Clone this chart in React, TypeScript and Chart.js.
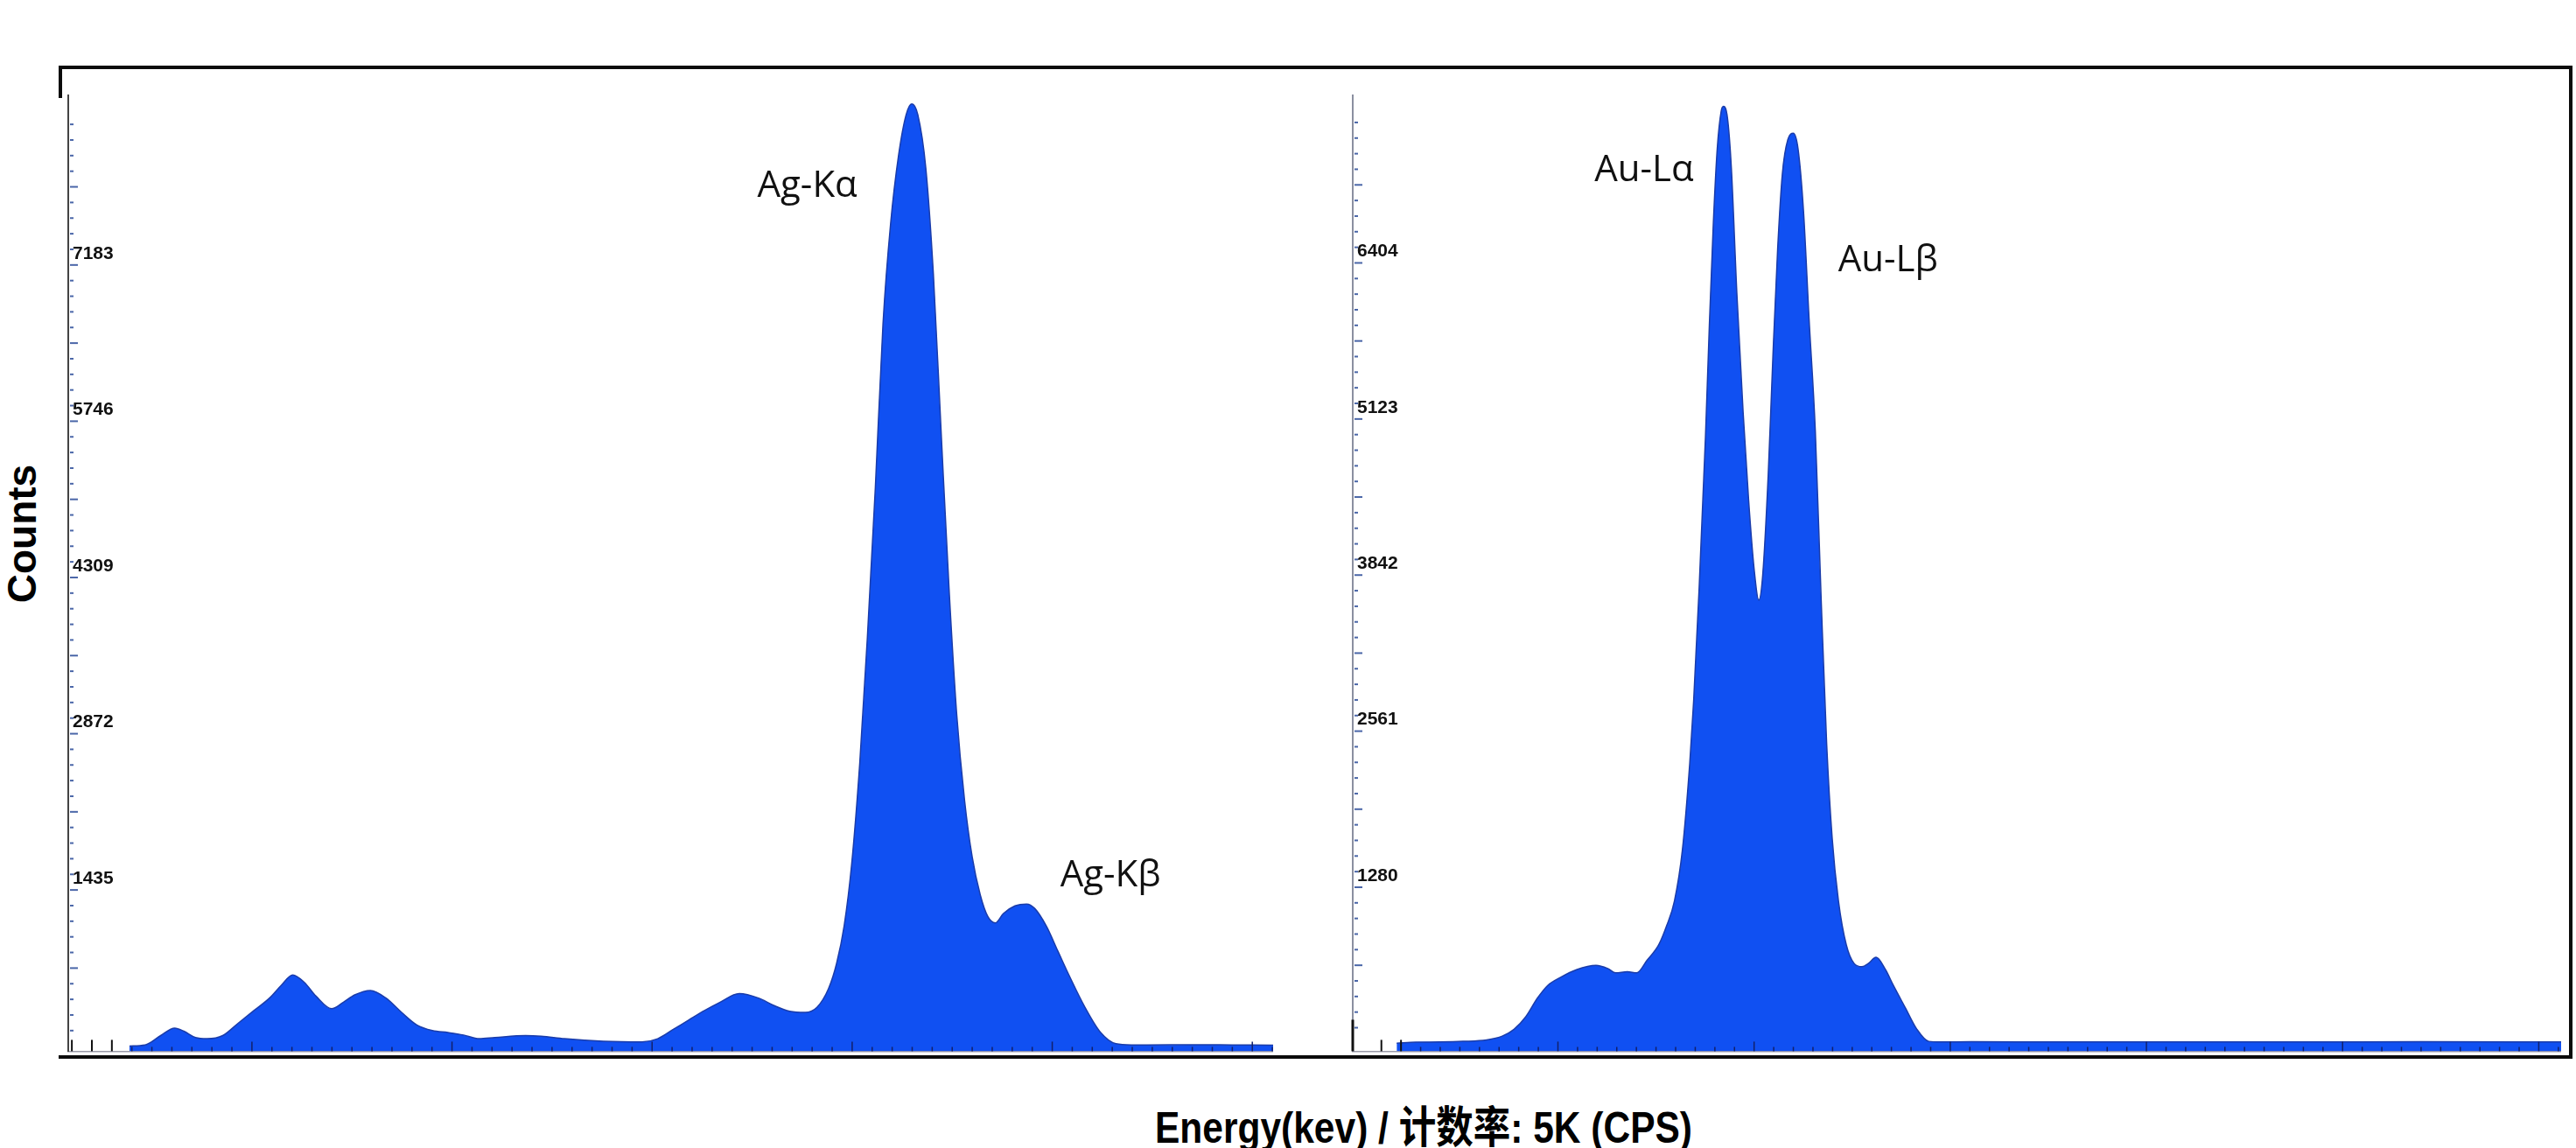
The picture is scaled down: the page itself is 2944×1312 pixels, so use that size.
import React, { useEffect, useRef } from "react";
import { Chart, ChartConfiguration, Plugin, registerables } from "chart.js";

Chart.register(...registerables);

// Ag spectrum (left panel), energy in keV and counts
const agEnergy = [
  1.94, 2.33, 2.72, 3.07, 3.3, 3.59, 3.88, 4.27, 4.66, 5.05, 5.44, 5.73, 6.02, 6.31, 6.6, 6.99, 7.28, 7.57,
  7.96, 8.35, 8.74, 9.12, 9.51, 9.9, 10.29, 10.68, 11.07, 11.84, 12.23, 12.81, 13.78, 14.75, 15.14, 15.53,
  15.92, 16.31, 16.69, 17.18, 17.66, 18.05, 18.44, 18.83, 19.12, 19.41, 19.61, 19.8, 19.99, 20.19, 20.38,
  20.58, 20.77, 20.96, 21.16, 21.35, 21.49, 21.64, 21.84, 22.03, 22.23, 22.42, 22.61, 22.81, 23.0, 23.2,
  23.39, 23.58, 23.78, 24.07, 24.36, 24.56, 24.85, 25.14, 25.43, 25.82, 26.21, 26.59, 26.98, 27.37, 28.5,
  29.5, 30.52,
];
const agCounts = [
  0, 9, 96, 165, 136, 78, 67, 96, 211, 326, 441, 557, 654, 585, 459, 343, 401, 470,
  511, 441, 309, 194, 142, 124, 101, 67, 78, 96, 90, 67, 44, 38, 67, 153,
  240, 326, 401, 482, 441, 372, 320, 309, 355, 528, 758, 1105, 1681, 2603, 3755,
  5139, 6637, 7559, 8192, 8567, 8665, 8567, 8077, 7097, 5599, 4216, 3063, 2257, 1738, 1392,
  1191, 1133, 1219, 1289, 1306, 1266, 1105, 874, 643, 355, 124, 21, 10, 10, 12,
  10, 8,
];
const agTickLabels = [1435, 2872, 4309, 5746, 7183];
const agPeaks = [
  { text: "Ag-Kα", energy: 17.63, counts: 7907 },
  { text: "Ag-Kβ", energy: 25.2, counts: 1565 },
];

// Au spectrum (right panel)
const auEnergy = [
  0.89, 1.38, 1.98, 2.58, 3.18, 3.58, 3.88, 4.18, 4.48, 4.74, 5.07, 5.47, 5.97, 6.27, 6.47, 6.77, 7.01,
  7.27, 7.57, 7.77, 7.97, 8.17, 8.36, 8.46, 8.6, 8.76, 8.86, 8.96, 9.06, 9.16, 9.22, 9.32, 9.42, 9.56,
  9.72, 9.86, 10.0, 10.12, 10.22, 10.36, 10.48, 10.6, 10.72, 10.86, 11.0, 11.12, 11.26, 11.4, 11.56,
  11.71, 11.85, 11.99, 12.15, 12.35, 12.55, 12.75, 12.91, 13.11, 13.35, 13.55, 13.85, 14.15, 14.45,
  14.75, 15.54, 18, 21, 24, 27, 30.57,
];
const auCounts = [
  0, 8, 10, 15, 27, 58, 114, 217, 371, 474, 541, 603, 639, 613, 577, 587, 577,
  680, 808, 963, 1168, 1580, 2300, 2814, 3740, 4974, 5900, 6723, 7340, 7648, 7689, 7597, 7185, 6157,
  5180, 4460, 3894, 3637, 3843, 4665, 5643, 6517, 7134, 7417, 7468, 7340, 6826, 5951, 5026,
  3637, 2454, 1683, 1168, 808, 654, 628, 654, 705, 603, 474, 294, 114, 15,
  10, 12, 10, 11, 10, 12, 10,
];
const auTickLabels = [1280, 2561, 3842, 5123, 6404];
const auPeaks = [
  { text: "Au-Lα", energy: 5.93, counts: 7163 },
  { text: "Au-Lβ", energy: 12.14, counts: 6421 },
];

const FILL = "#1050f2";
const EDGE = "#1a3caa";
const SANS = '"Liberation Sans", Arial, sans-serif';

// small detector-style tick marks drawn inside the plot
const tickMarks: Plugin<"line"> = {
  id: "tickMarks",
  afterDatasetsDraw(chart, _args, opts: any) {
    const { ctx, chartArea } = chart;
    const xs = chart.scales.x;
    const ys = chart.scales.y;
    ctx.save();

    ctx.strokeStyle = "#4a66a8";
    ctx.lineWidth = 2;
    for (let i = -9; i * opts.minorStep < opts.top - 1; i++) {
      const v = opts.top - i * opts.minorStep;
      const py = ys.getPixelForValue(v);
      const len = i % 5 === 0 ? 9 : 4;
      ctx.beginPath();
      ctx.moveTo(chartArea.left + 2, py);
      ctx.lineTo(chartArea.left + 2 + len, py);
      ctx.stroke();
    }

    for (let e = 0.5; e <= (xs.max as number); e += 0.5) {
      const px = xs.getPixelForValue(e);
      const first = e <= opts.firstTicks;
      const major = Math.abs(e % 5) < 1e-6;
      ctx.strokeStyle = first ? "#111" : "#12206a";
      ctx.lineWidth = first ? 2 : 1.5;
      const len = first ? 13 : major ? 11 : 5;
      ctx.beginPath();
      ctx.moveTo(px, chartArea.bottom);
      ctx.lineTo(px, chartArea.bottom - len);
      ctx.stroke();
    }

    if (opts.foot) {
      ctx.strokeStyle = "#111";
      ctx.lineWidth = 3;
      ctx.beginPath();
      ctx.moveTo(chartArea.left, chartArea.bottom);
      ctx.lineTo(chartArea.left, chartArea.bottom - 36);
      ctx.stroke();
    }
    ctx.restore();
  },
};

const peakLabels: Plugin<"line"> = {
  id: "peakLabels",
  afterDatasetsDraw(chart, _args, opts: any) {
    const { ctx } = chart;
    ctx.save();
    ctx.font = '42px "Open Sans", sans-serif';
    ctx.fillStyle = "#111";
    ctx.textAlign = "left";
    ctx.textBaseline = "middle";
    for (const p of opts.peaks) {
      ctx.fillText(p.text, chart.scales.x.getPixelForValue(p.energy), chart.scales.y.getPixelForValue(p.counts));
    }
    ctx.restore();
  },
};

interface PanelProps {
  energy: number[];
  counts: number[];
  tickLabels: number[];
  peaks: { text: string; energy: number; counts: number }[];
  xMin: number;
  xMax: number;
  yMin: number;
  yMax: number;
  axisColor: string;
  firstTicks: number;
  foot: boolean;
  box: { left: number; top: number; width: number; height: number };
}

const SpectrumPanel: React.FC<PanelProps> = (p) => {
  const chartRef = useRef<HTMLCanvasElement | null>(null);

  useEffect(() => {
    if (!chartRef.current) return;
    const step = (p.tickLabels[1] - p.tickLabels[0]) / 10;
    const cfg: ChartConfiguration<"line"> = {
      type: "line",
      data: {
        datasets: [
          {
            data: p.energy.map((e, i) => ({ x: e, y: p.counts[i] })),
            fill: "start",
            backgroundColor: FILL,
            borderColor: EDGE,
            borderWidth: 1.5,
            pointRadius: 0,
            cubicInterpolationMode: "monotone",
          },
        ],
      },
      options: {
        animation: false,
        responsive: true,
        maintainAspectRatio: false,
        layout: { padding: 0 },
        plugins: {
          legend: { display: false },
          tooltip: { enabled: false },
          tickMarks: {
            top: p.tickLabels[p.tickLabels.length - 1],
            minorStep: step,
            firstTicks: p.firstTicks,
            foot: p.foot,
          },
          peakLabels: { peaks: p.peaks },
        } as any,
        scales: {
          x: {
            type: "linear",
            min: p.xMin,
            max: p.xMax,
            ticks: { display: false },
            grid: { display: false },
            border: { display: true, color: "#9a9aa8", width: 1.5 },
          },
          y: {
            type: "linear",
            min: p.yMin,
            max: p.yMax,
            afterBuildTicks: (s) => {
              s.ticks = p.tickLabels.map((v) => ({ value: v }));
            },
            ticks: {
              mirror: true,
              padding: 5,
              labelOffset: -13,
              color: "#111",
              font: { family: SANS, size: 21, weight: "bold" },
              callback: (v) => String(v),
            },
            grid: { display: false },
            border: { display: true, color: p.axisColor, width: 2 },
          },
        },
      },
      plugins: [tickMarks, peakLabels],
    };
    const chart = new Chart(chartRef.current, cfg);
    return () => {
      chart.destroy();
    };
  }, [p]);

  return (
    <div style={{ position: "absolute", ...p.box }}>
      <canvas ref={chartRef}></canvas>
    </div>
  );
};

const line = (left: number, top: number, width: number, height: number): React.CSSProperties => ({
  position: "absolute",
  left,
  top,
  width,
  height,
  background: "#0b0b0b",
});

export default function App() {
  return (
    <div
      style={{
        position: "absolute",
        left: 0,
        top: 0,
        width: 2944,
        height: 1312,
        overflow: "hidden",
        background: "#fff",
      }}
    >
      <div style={line(67, 75, 2873, 4)} />
      <div style={line(67, 1206, 2873, 4)} />
      <div style={line(2936, 75, 4, 1135)} />
      <div style={line(67, 75, 4, 37)} />

      <SpectrumPanel
        energy={agEnergy}
        counts={agCounts}
        tickLabels={agTickLabels}
        peaks={agPeaks}
        xMin={0.41}
        xMax={30.52}
        yMin={-48}
        yMax={8746}
        axisColor="#444"
        firstTicks={1.5}
        foot={false}
        box={{ left: 60, top: 91, width: 1395, height: 1128 }}
      />
      <SpectrumPanel
        energy={auEnergy}
        counts={auCounts}
        tickLabels={auTickLabels}
        peaks={auPeaks}
        xMin={-0.23}
        xMax={30.57}
        yMin={-66}
        yMax={7782}
        axisColor="#8a8fa0"
        firstTicks={1.0}
        foot={true}
        box={{ left: 1528, top: 91, width: 1399, height: 1128 }}
      />

      <div
        style={{
          position: "absolute",
          left: 25,
          top: 610,
          transform: "translate(-50%, -50%) rotate(-90deg)",
          font: `bold 46px ${SANS}`,
          lineHeight: 1,
          whiteSpace: "nowrap",
          color: "#000",
        }}
      >
        Counts
      </div>
      <div
        style={{
          position: "absolute",
          left: 1627,
          top: 1264,
          transform: "translateX(-50%) scaleX(0.85)",
          font: `bold 50px ${SANS}, "Noto Sans CJK SC"`,
          lineHeight: 1,
          whiteSpace: "nowrap",
          color: "#000",
        }}
      >
        Energy(kev) / 计数率: 5K (CPS)
      </div>
    </div>
  );
}
